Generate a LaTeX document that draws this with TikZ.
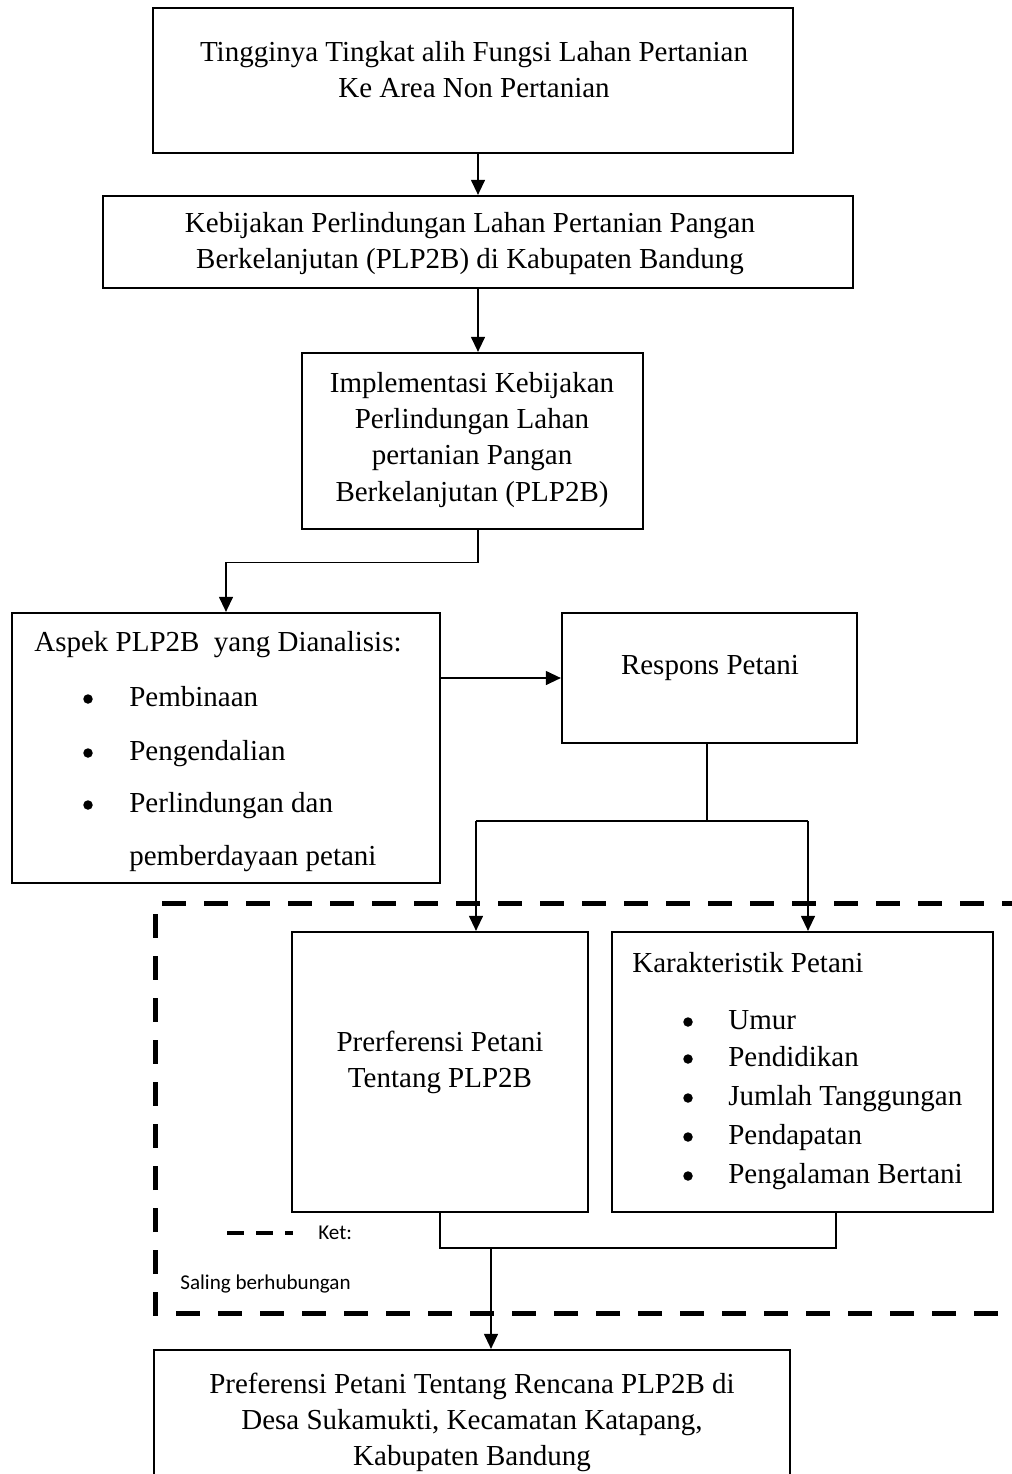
\documentclass[tikz,border=0pt]{standalone}
\usepackage{fontspec}
\setmainfont{Liberation Serif}
\newfontfamily\ketfont{Carlito}
\usetikzlibrary{arrows.meta}

\begin{document}
\begin{tikzpicture}[x=0.2mm,y=-0.2mm,
  box/.style={draw,line width=.45mm,inner sep=0pt},
  txt/.style={font=\fontsize{16.5}{20.5}\selectfont,align=center,inner sep=0pt},
  dot/.style={circle,fill,inner sep=0pt,minimum size=1.9mm},
  line/.style={line width=.25mm},
  arr/.style={line,-{Triangle[length=3mm,width=2.8mm]}},
  dashbox/.style={line width=1mm,dash pattern=on 4.8mm off 3.6mm},
  legdash/.style={line width=.8mm,dash pattern=on 3.4mm off 2.4mm},
  ket/.style={font=\ketfont\fontsize{12}{14}\selectfont,inner sep=0pt,anchor=west}]
\useasboundingbox (0,0) rectangle (1012,1474);
\clip (0,0) rectangle (1012,1474);

\node[box,minimum width=128mm,minimum height=29mm] (b1) at (473,80.5) {};
\node[txt] (t1) at (474,70) {Tingginya Tingkat alih Fungsi Lahan Pertanian\\Ke Area Non Pertanian};

\node[box,minimum width=150mm,minimum height=18.4mm] (b2) at (478,242) {};
\node[txt] (t2) at (470,244) {Kebijakan Perlindungan Lahan Pertanian Pangan\\Berkelanjutan (PLP2B) di Kabupaten Bandung};

\node[box,minimum width=68.2mm,minimum height=35.2mm] (b3) at (472.5,441) {};
\node[txt] (t3) at (472,440) {Implementasi Kebijakan\\Perlindungan Lahan\\pertanian Pangan\\Berkelanjutan (PLP2B)};

\node[box,minimum width=85.6mm,minimum height=54mm] (b4) at (226,748) {};
\node[txt,anchor=west] (t4) at (34,645) {Aspek PLP2B\ \ yang Dianalisis:};
\foreach \y/\t in {706/Pembinaan,760/Pengendalian,812/Perlindungan dan}{
  \node[dot] (bul-\y) at (88,\y-7) {};
  \node[txt,anchor=base west] (asp-\y) at (129,\y) {\t};
}
\node[txt,anchor=base west] (asp-865) at (129,865) {pemberdayaan petani};

\node[box,minimum width=59mm,minimum height=26mm] (b5) at (709.5,678) {};
\node[txt] (t5) at (710,668) {Respons Petani};

\draw[dashbox] (1040,1313) -- (155,1313) -- (155,903) -- (1040,903);

\node[box,minimum width=59.2mm,minimum height=56mm] (b6) at (440,1072) {};
\node[txt] (t6) at (440,1062) {Prerferensi Petani\\Tentang PLP2B};

\node[box,minimum width=76.2mm,minimum height=56mm] (b7) at (802.5,1072) {};
\node[txt,anchor=west] (t7) at (632,963) {Karakteristik Petani};
\foreach \y/\t in {1029/Umur,1066/Pendidikan,1105/Jumlah Tanggungan,1144/Pendapatan,1183/Pengalaman Bertani}{
  \node[dot] (kb-\y) at (688,\y-7) {};
  \node[txt,anchor=base west] (kar-\y) at (728,\y) {\t};
}

\node[box,minimum width=127.2mm,minimum height=26mm] (b8) at (472,1415) {};
\node[txt] (t8) at (472,1422) {Preferensi Petani Tentang Rencana PLP2B di\\Desa Sukamukti, Kecamatan Katapang,\\Kabupaten Bandung};

\draw[legdash] (227,1233) -- (293,1233);
\node[ket] (ket) at (318,1233) {Ket:};
\node[ket] (sal) at (180,1284) {Saling berhubungan};

\coordinate (s0) at (707,821);
\coordinate (s1) at (476,821);
\coordinate (s2) at (808,821);
\coordinate (j1) at (491,1248);
\coordinate (j2) at (836,1248);

\draw[arr] (b2.north |- b1.south) -- (b2.north);
\draw[arr] (b2.south) -- (b2.south |- b3.north);
\draw[arr] (b3.south -| b2.south) -- ++(0,32) -| (b4.north);
\draw[arr] (b4.east |- b5.west) -- (b5.west);
\draw[line] (b5.south -| s0) -- (s0);
\draw[line] (s1) -- (s2);
\draw[arr] (s1) -- (s1 |- b6.north);
\draw[arr] (s2) -- (s2 |- b7.north);
\draw[line] (b6.south) |- (j2) -- (j2 |- b7.south);
\draw[arr] (j1) -- (j1 |- b8.north);
\end{tikzpicture}
\end{document}
